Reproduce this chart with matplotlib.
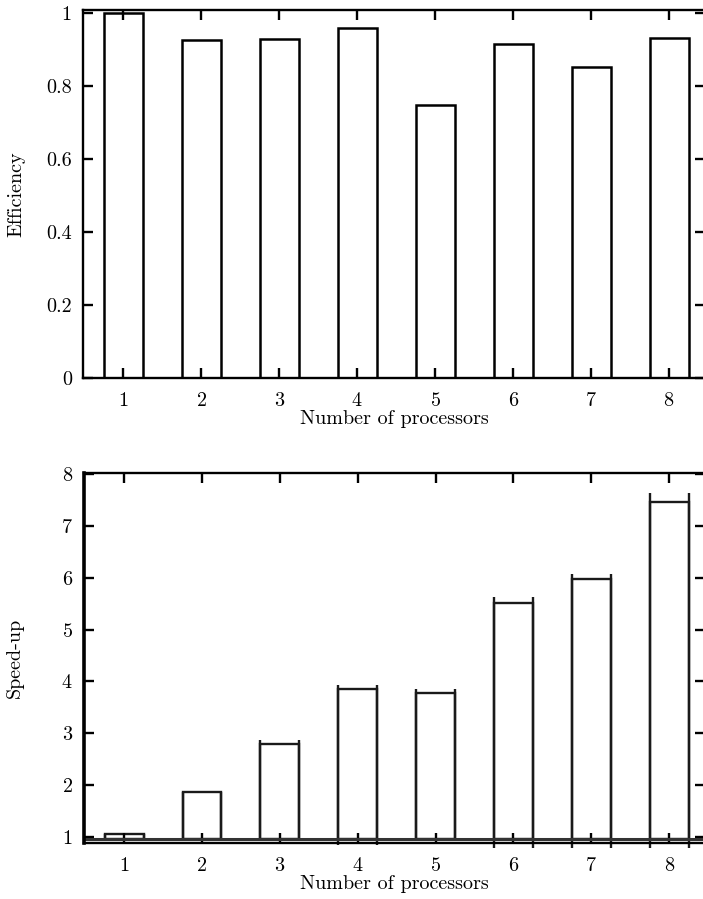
import numpy as np
import matplotlib.pyplot as plt

plt.rcParams['font.family'] = 'serif'
plt.rcParams['font.serif'] = ['cmr10']
plt.rcParams['axes.formatter.use_mathtext'] = True
plt.rcParams['font.size'] = 14.5

procs = [1, 2, 3, 4, 5, 6, 7, 8]
efficiency = [1.0, 0.926, 0.929, 0.959, 0.748, 0.916, 0.853, 0.932]
speedup = [1.05, 1.87, 2.80, 3.86, 3.77, 5.51, 5.97, 7.47]
# vertical extent of the bar edge strokes in the lower panel
speedup_lo = [0.95, 0.95, 0.95, 0.84, 0.95, 0.78, 0.78, 0.78]
speedup_hi = [1.05, 1.87, 2.87, 3.93, 3.85, 5.63, 6.08, 7.63]
base = 0.95

eff_ticks = [0, 0.2, 0.4, 0.6, 0.8, 1]
eff_labels = ['0', '0.2', '0.4', '0.6', '0.8', '1']
sp_ticks = [1, 2, 3, 4, 5, 6, 7, 8]

W, H = 703, 899
fig = plt.figure(figsize=(W/100, H/100), dpi=100)

ax1 = fig.add_axes([83/W, 1-378/H, (705-83)/W, (378-10)/H])
ax2 = fig.add_axes([84/W, 1-842.7/H, (705-84)/W, (842.7-473.3)/H])

x = np.array(procs)

ax1.bar(x, efficiency, width=0.5, facecolor='white', edgecolor='black', linewidth=1.8)
ax1.set_xlim(0.485, 8.46)
ax1.set_ylim(0, 1.008)
ax1.set_yticks(eff_ticks)
ax1.set_yticklabels(eff_labels)
ax1.set_ylabel('Efficiency', labelpad=15)

col = '#1a1a1a'
ax2.bar(x, np.array(speedup) - base, bottom=base, width=0.5, facecolor='white',
        edgecolor=col, linewidth=1.7)
ax2.vlines(x - 0.25, speedup_lo, speedup_hi, color=col, lw=1.7, clip_on=False)
ax2.vlines(x + 0.25, speedup_lo, speedup_hi, color=col, lw=1.7, clip_on=False)
ax2.axhline(base, color='#333333', lw=2.2)
ax2.set_xlim(0.485, 8.46)
ax2.set_ylim(0.884, 8.02)
ax2.set_yticks(sp_ticks)
ax2.set_ylabel('Speed-up', labelpad=27)

for ax in (ax1, ax2):
    ax.set_xticks(procs)
    ax.set_xlabel('Number of processors', labelpad=0)
    ax.tick_params(direction='in', top=True, right=True, length=7, width=1.7, pad=10)
    ax.tick_params(axis='y', pad=8)
    for s in ax.spines.values():
        s.set_linewidth(1.7)
ax2.spines['left'].set_linewidth(2.6)

plt.savefig('out.png', dpi=100)
